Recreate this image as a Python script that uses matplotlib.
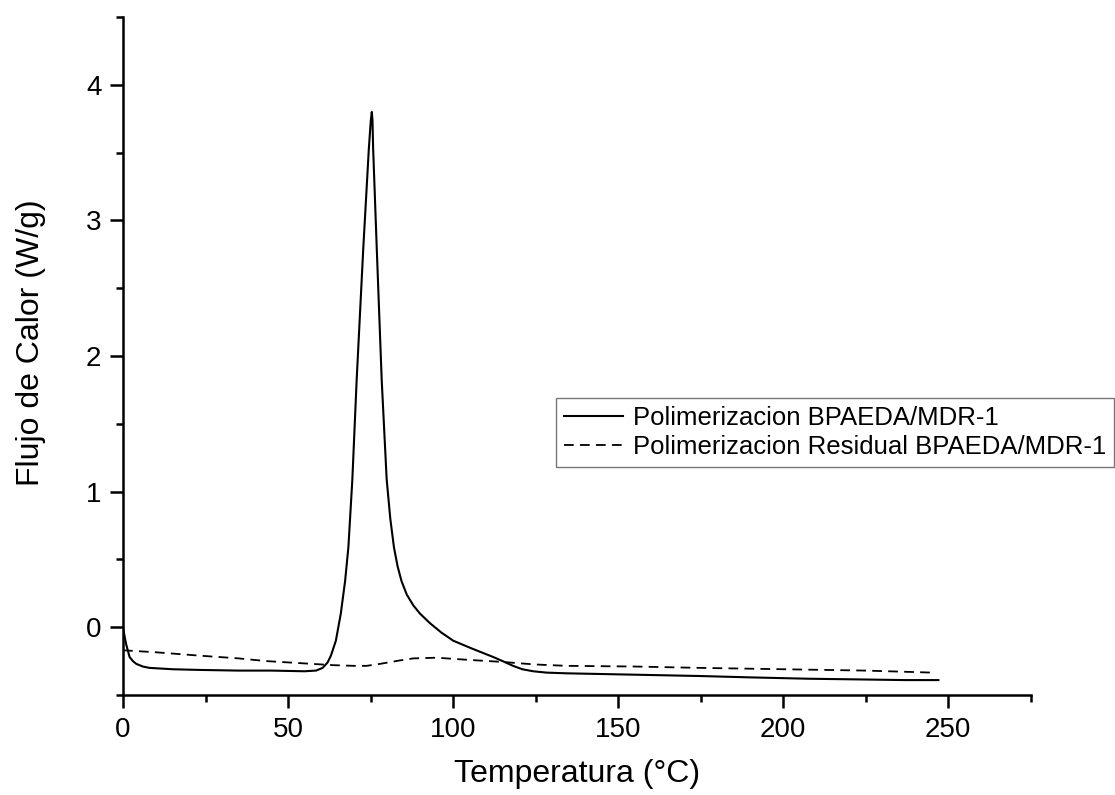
import matplotlib
matplotlib.use("Agg")
import matplotlib.pyplot as plt
from matplotlib.ticker import MultipleLocator

# DSC heat flow curves: temperature (°C) and heat flow (W/g)
temp_main = [0, 0.5, 1.0, 2.0, 3.0, 4.0, 6.0, 8.0, 15, 23, 35, 45, 55, 58.5,
             60.5, 62.0, 63.0, 64.5, 66.0, 67.3, 68.3, 69.5, 70.8, 72.8, 74.5,
             75.1, 75.4, 75.6, 75.8, 76.9, 78.4, 79.9, 81.0, 82.1, 83.2, 84.4,
             86.0, 88.0, 90.0, 93.0, 96.5, 100.1, 106, 112.2, 115.5, 118.2, 121.0,
             124.3, 128.4, 134.3, 154.6, 174.8, 190, 207.6, 222.7, 237, 247.1]
flow_main = [0.0, -0.07, -0.13, -0.22, -0.25, -0.27, -0.29, -0.30, -0.31, -0.315,
             -0.32, -0.32, -0.325, -0.32, -0.30, -0.26, -0.21, -0.10, 0.10, 0.34,
             0.59, 1.09, 1.82, 2.79, 3.53, 3.74, 3.80, 3.74, 3.53, 2.79, 1.82, 1.09,
             0.80, 0.59, 0.45, 0.34, 0.24, 0.16, 0.10, 0.03, -0.04, -0.10, -0.16,
             -0.22, -0.255, -0.285, -0.31, -0.325, -0.335, -0.34, -0.35, -0.36,
             -0.37, -0.38, -0.385, -0.39, -0.39]

temp_resid = [0, 10, 23.3, 35, 43.5, 53.6, 63.7, 70, 73.8, 78, 83.9, 88, 95,
              104.1, 114.2, 125, 134.4, 155, 174.8, 200, 225, 245.5]
flow_resid = [-0.17, -0.185, -0.21, -0.23, -0.25, -0.265, -0.28, -0.285, -0.285,
              -0.27, -0.245, -0.23, -0.225, -0.24, -0.255, -0.275, -0.285, -0.29,
              -0.30, -0.31, -0.32, -0.335]

label_main = "Polimerizacion BPAEDA/MDR-1"
label_resid = "Polimerizacion Residual BPAEDA/MDR-1"

plt.rcParams["font.family"] = ["Liberation Sans", "DejaVu Sans"]
plt.rcParams["lines.scale_dashes"] = False

fig = plt.figure(figsize=(11.15, 7.95), dpi=100)
ax = fig.add_axes([123 / 1115, 1 - 695 / 795, (1030.5 - 123) / 1115, (695 - 17) / 795])

ax.plot(temp_main, flow_main, color="black", lw=1.5, label=label_main)
ax.plot(temp_resid, flow_resid, color="black", lw=1.3, dashes=(7, 4.5), label=label_resid)

ax.set_xlim(0, 275)
ax.set_ylim(-0.5, 4.5)
ax.xaxis.set_major_locator(MultipleLocator(50))
ax.xaxis.set_minor_locator(MultipleLocator(25))
ax.yaxis.set_major_locator(MultipleLocator(1))
ax.yaxis.set_minor_locator(MultipleLocator(0.5))

for side in ("top", "right"):
    ax.spines[side].set_visible(False)
for side in ("left", "bottom"):
    ax.spines[side].set_linewidth(1.8)

ax.tick_params(which="major", direction="out", length=9.5, width=1.8,
               labelsize=20, pad=6)
ax.tick_params(which="minor", direction="out", length=5, width=1.8)

ax.set_xlabel("Temperatura (°C)", fontsize=23)
ax.set_ylabel("Flujo de Calor (W/g)", fontsize=23)
ax.xaxis.set_label_coords(0.5, -0.095)
ax.yaxis.set_label_coords(-0.085, 0.52)

leg = fig.legend(loc="upper left", bbox_to_anchor=(556 / 1115, 1 - 398 / 795),
                 fontsize=18.5, frameon=True, fancybox=False, handlelength=2.3,
                 handletextpad=0.4, borderpad=0.3, labelspacing=0.2,
                 borderaxespad=0)
leg.get_frame().set_edgecolor("#555555")
leg.get_frame().set_linewidth(1.0)

fig.savefig("out.png", dpi=100, facecolor="white")
